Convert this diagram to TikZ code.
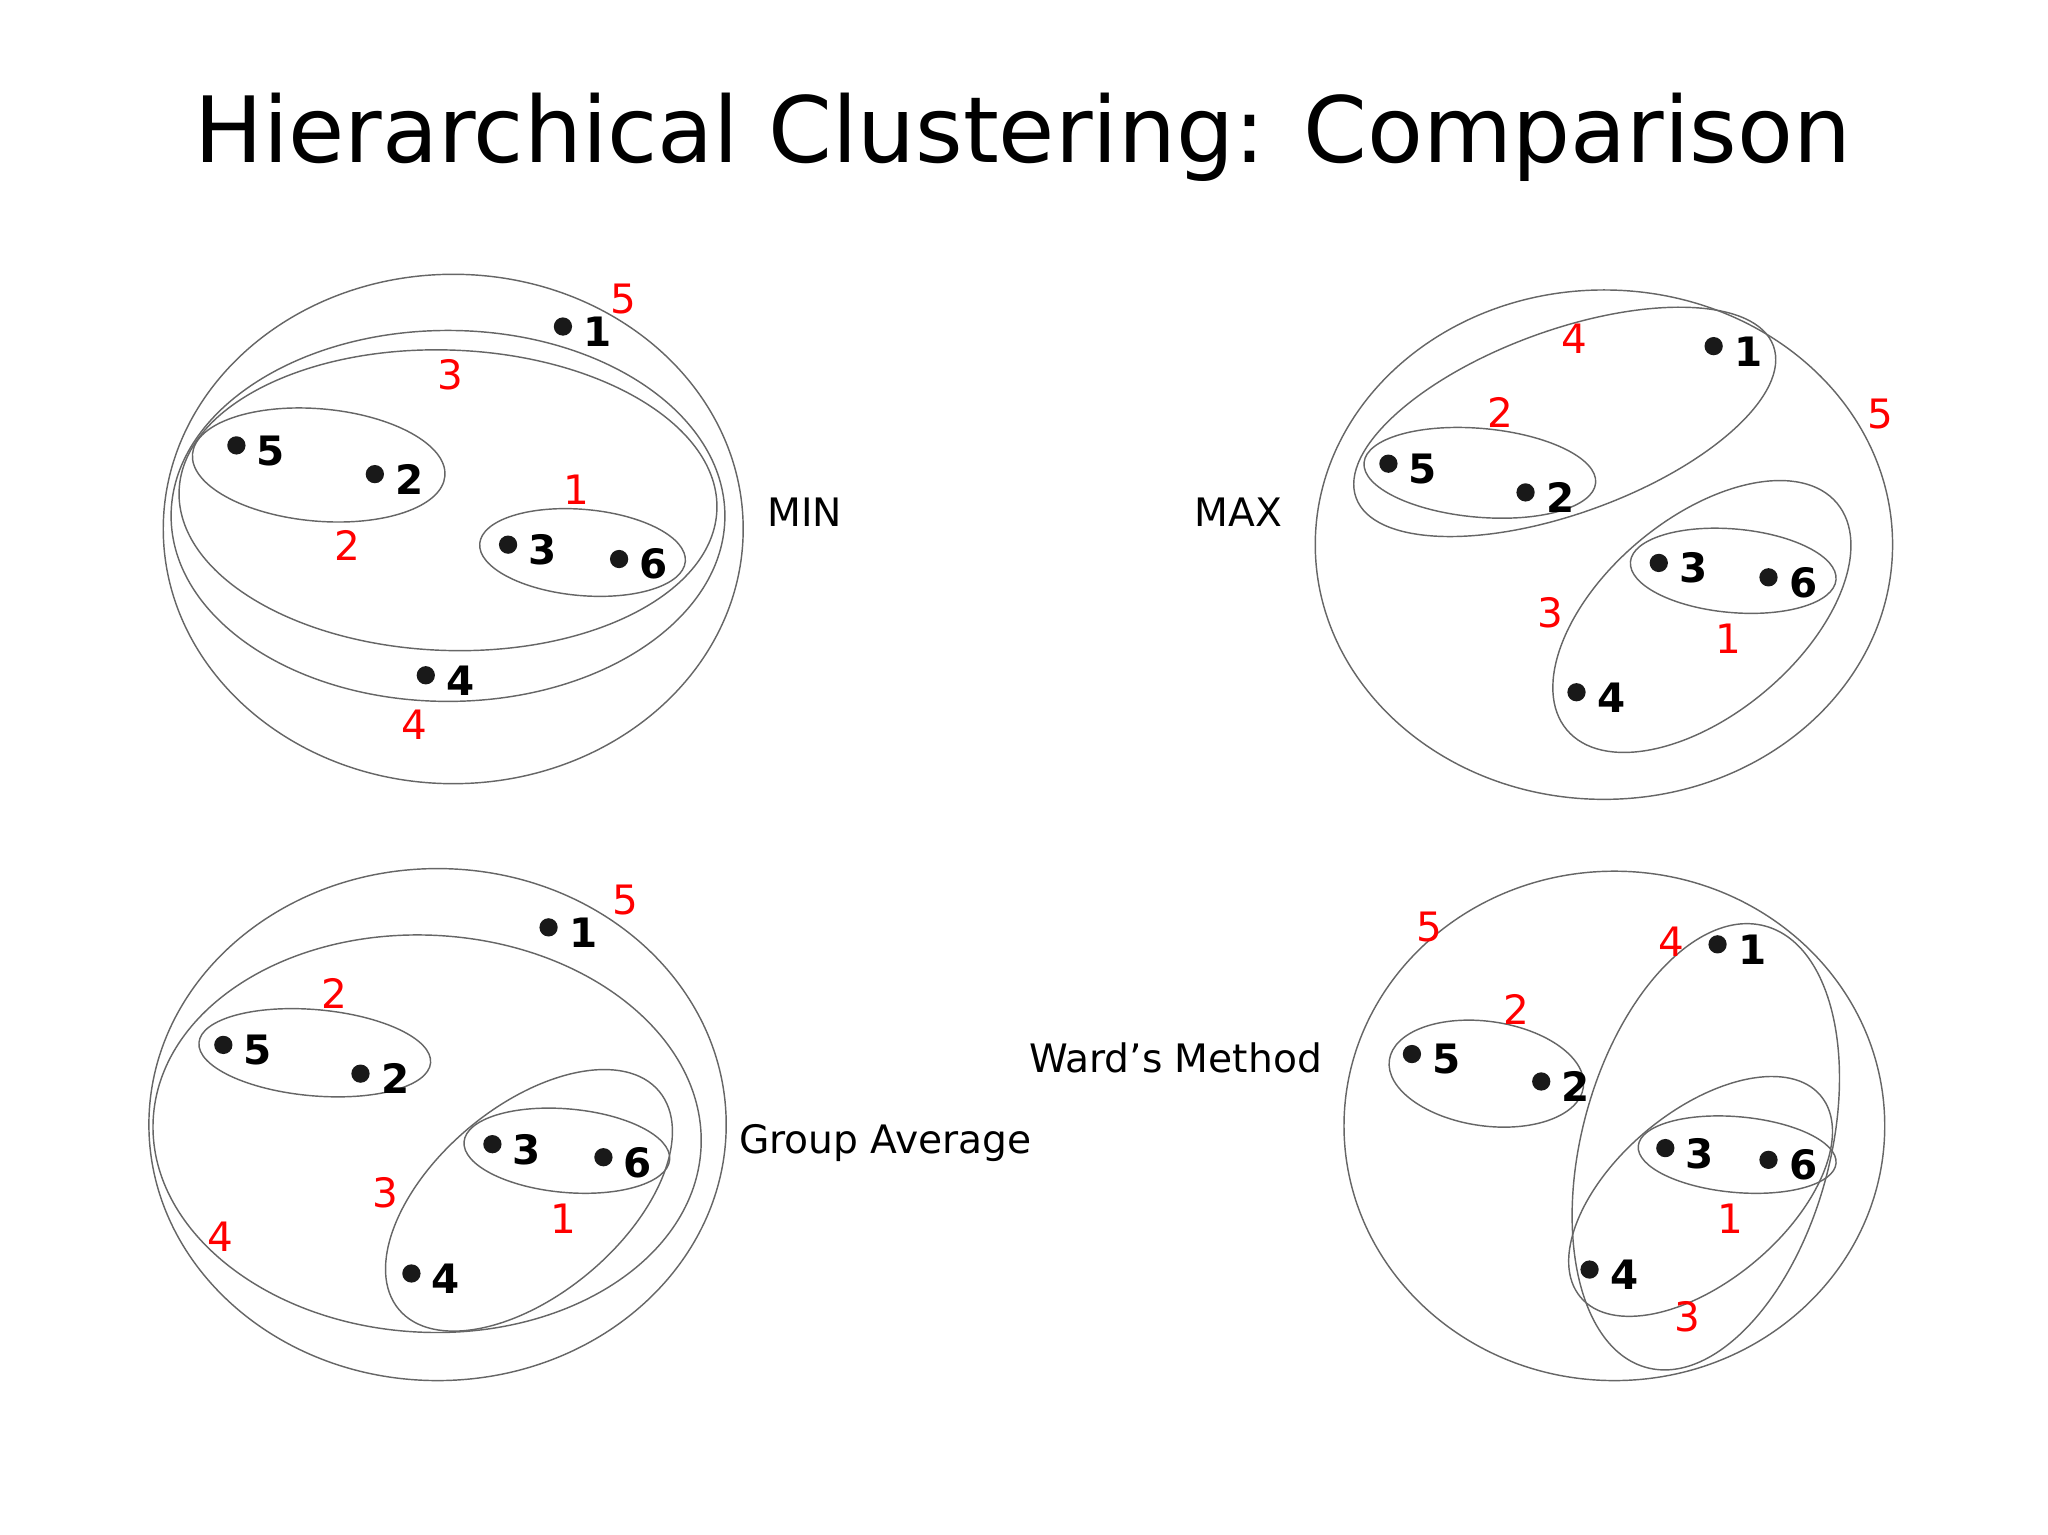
\documentclass[tikz,border=0pt]{standalone}
\usepackage{fontspec}
\setmainfont{DejaVu Sans}
\begin{document}
\begin{tikzpicture}[x=1pt,y=-1pt,
 ring/.style={draw=black!60,line width=1.1pt},
 pt/.style={circle,fill=black!90,inner sep=0pt,minimum size=14pt},
 plab/.style={font=\fontsize{31}{31}\selectfont\bfseries,anchor=west},
 rlab/.style={text=red,font=\fontsize{31}{31}\selectfont},
 side/.style={font=\fontsize{30}{30}\selectfont}]
\useasboundingbox (0,0) rectangle (1568,1175);
\node (title) at (783,105) {\fontsize{70}{70}\selectfont Hierarchical Clustering: Comparison};
\newcommand{\pnt}[4]{\node[pt] (#1) at (#2,#3) {}; \node[plab] (#1l) at ([xshift=5pt,yshift=-4pt]#1.east) {#4};}
% ---------- MIN ----------
\draw[ring] (347,405) ellipse [x radius=222,y radius=195];
\draw[ring] (343,395) ellipse [x radius=212,y radius=142];
\draw[ring,rotate around={-2:(343,383)}] (343,383) ellipse [x radius=206,y radius=115];
\draw[ring,rotate around={-5:(244,356)}] (244,356) ellipse [x radius=97,y radius=43];
\draw[ring,rotate around={-5:(446,423)}] (446,423) ellipse [x radius=79,y radius=33];
\pnt{a1}{431}{250}{1}\pnt{a5}{181}{341}{5}\pnt{a2}{287}{363}{2}
\pnt{a3}{389}{417}{3}\pnt{a6}{474}{428}{6}\pnt{a4}{326}{517}{4}
\node[rlab] (ar5) at (477,229) {5};\node[rlab] (ar3) at (345,287) {3};
\node[rlab] (ar1) at (441,375) {1};\node[rlab] (ar2) at (266,418) {2};
\node[rlab] (ar4) at (317,555) {4};
\node[side] (min) at (616,392) {MIN};
% ---------- MAX ----------
\draw[ring] (1228,417) ellipse [x radius=221,y radius=195];
\draw[ring,rotate around={20:(1198,323)}] (1198,323) ellipse [x radius=170,y radius=70];
\draw[ring,rotate around={-5:(1133,362)}] (1133,362) ellipse [x radius=89,y radius=34];
\draw[ring,rotate around={40:(1303,472)}] (1303,472) ellipse [x radius=135,y radius=75];
\draw[ring,rotate around={-5:(1327,437)}] (1327,437) ellipse [x radius=79,y radius=32];
\pnt{b1}{1312}{265}{1}\pnt{b5}{1063}{355}{5}\pnt{b2}{1168}{377}{2}
\pnt{b3}{1270}{431}{3}\pnt{b6}{1354}{442}{6}\pnt{b4}{1207}{530}{4}
\node[rlab] (br4) at (1205,259) {4};\node[rlab] (br2) at (1149,316) {2};
\node[rlab] (br5) at (1440,317) {5};\node[rlab] (br3) at (1187,469) {3};
\node[rlab] (br1) at (1323,489) {1};
\node[side] (max) at (948,392) {MAX};
% ---------- Group Average ----------
\draw[ring] (335,861) ellipse [x radius=221,y radius=196];
\draw[ring,rotate around={-3:(327,868)}] (327,868) ellipse [x radius=210,y radius=152];
\draw[ring,rotate around={-5:(241,806)}] (241,806) ellipse [x radius=89,y radius=33];
\draw[ring,rotate around={40:(405,919)}] (405,919) ellipse [x radius=130,y radius=72];
\draw[ring,rotate around={-5:(434,881)}] (434,881) ellipse [x radius=79,y radius=32];
\pnt{c1}{420}{710}{1}\pnt{c5}{171}{800}{5}\pnt{c2}{276}{822}{2}
\pnt{c3}{377}{876}{3}\pnt{c6}{462}{886}{6}\pnt{c4}{315}{975}{4}
\node[rlab] (cr5) at (479,689) {5};\node[rlab] (cr2) at (256,761) {2};
\node[rlab] (cr3) at (295,913) {3};\node[rlab] (cr1) at (431,933) {1};
\node[rlab] (cr4) at (169,947) {4};
\node[side] (ga) at (678,875) {Group Average};
% ---------- Ward ----------
\draw[ring] (1236,862) ellipse [x radius=207,y radius=195];
\draw[ring,rotate around={75:(1306,878)}] (1306,878) ellipse [x radius=175,y radius=95];
\draw[ring,rotate around={-8:(1138,822)}] (1138,822) ellipse [x radius=75,y radius=40];
\draw[ring,rotate around={40:(1302,916)}] (1302,916) ellipse [x radius=120,y radius=65];
\draw[ring,rotate around={-5:(1330,884)}] (1330,884) ellipse [x radius=76,y radius=29];
\pnt{d1}{1315}{723}{1}\pnt{d5}{1081}{807}{5}\pnt{d2}{1180}{828}{2}
\pnt{d3}{1275}{879}{3}\pnt{d6}{1354}{888}{6}\pnt{d4}{1217}{972}{4}
\node[rlab] (dr5) at (1094,710) {5};\node[rlab] (dr4) at (1280,721) {4};
\node[rlab] (dr2) at (1161,773) {2};\node[rlab] (dr1) at (1325,933) {1};
\node[rlab] (dr3) at (1292,1008) {3};
\node[side] (ward) at (900,810) {Ward’s Method};
\end{tikzpicture}
\end{document}
